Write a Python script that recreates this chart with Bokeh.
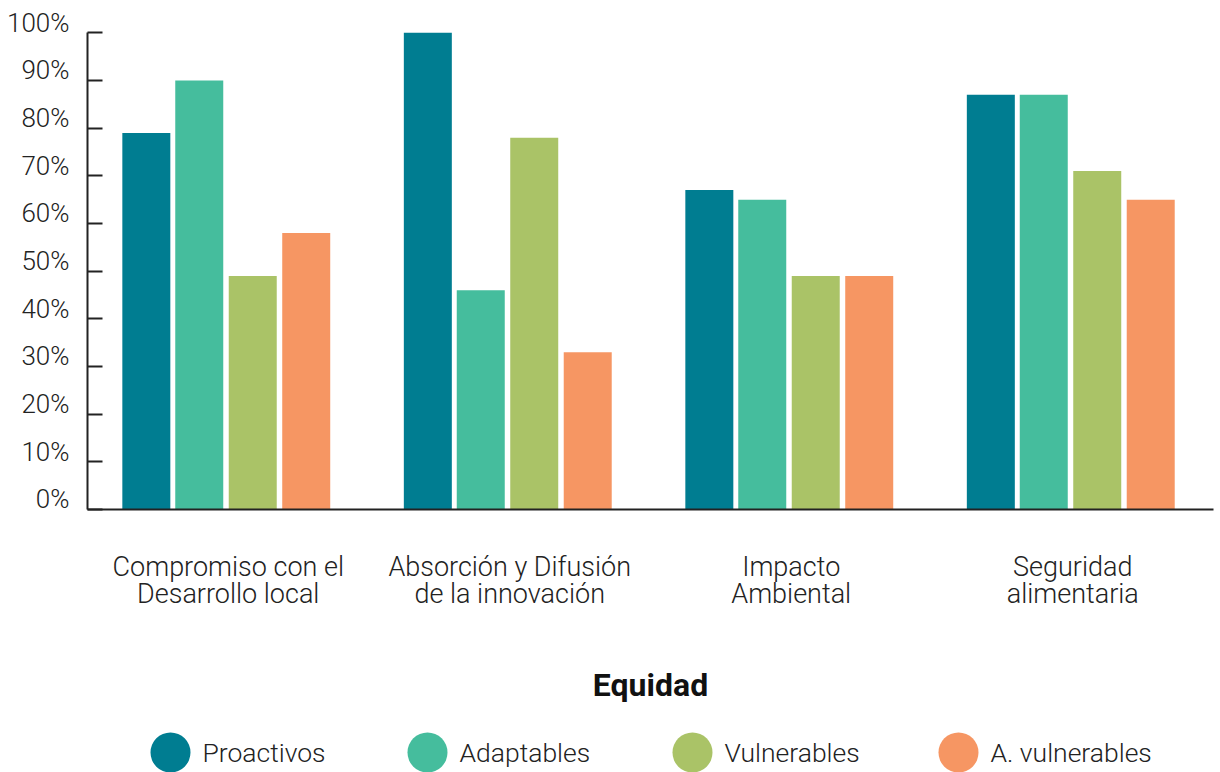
from bokeh.plotting import figure
from bokeh.layouts import column
from bokeh.models import (FactorRange, Range1d, LinearAxis, FixedTicker,
                          ColumnDataSource)
from bokeh.transform import dodge
from bokeh.core.properties import value
from bokeh.embed import file_html
from bokeh.resources import INLINE

# ---- data -------------------------------------------------------------
categories = [
    "Compromiso con el\nDesarrollo local",
    "Absorción y Difusión\nde la innovación",
    "Impacto\nAmbiental",
    "Seguridad\nalimentaria",
]
series_names = ["Proactivos", "Adaptables", "Vulnerables", "A. vulnerables"]
proactivos = [79, 100, 67, 87]
adaptables = [90, 46, 65, 87]
vulnerables = [49, 78, 49, 71]
a_vulnerables = [58, 33, 49, 65]
y_ticks = [0, 10, 20, 30, 40, 50, 60, 70, 80, 90, 100]
y_tick_labels = ["0%", "10%", "20%", "30%", "40%", "50%",
                 "60%", "70%", "80%", "90%", "100%"]
legend_title = "Equidad"

# ---- style ------------------------------------------------------------
colors = ["#007D91", "#45BD9D", "#AAC367", "#F69663"]
FONT = "Roboto Light"
INK = "#222222"
offsets = [-0.291, -0.103, 0.087, 0.277]
bar_width = 0.1705

source = ColumnDataSource(dict(
    cat=categories,
    proactivos=proactivos,
    adaptables=adaptables,
    vulnerables=vulnerables,
    a_vulnerables=a_vulnerables,
))
fields = ["proactivos", "adaptables", "vulnerables", "a_vulnerables"]

p = figure(
    width=1220, height=712,
    x_range=FactorRange(*categories, range_padding=0),
    y_range=Range1d(0, 103),
    y_axis_location=None,
    output_backend="svg", toolbar_location=None,
    min_border_left=87, min_border_right=7,
    min_border_top=18, min_border_bottom=203,
)
p.outline_line_color = None
p.grid.grid_line_color = None

for field, off, col in zip(fields, offsets, colors):
    p.vbar(x=dodge("cat", off, range=p.x_range), top=field, width=bar_width,
           source=source, fill_color=col, line_color=None)

# left axis: line and inward ticks only (labels come from the next axis)
tick_axis = LinearAxis(
    ticker=FixedTicker(ticks=y_ticks), bounds=(0, 100),
    major_tick_in=15, major_tick_out=0,
    major_tick_line_color=INK, major_tick_line_width=2,
    minor_tick_line_color=None,
    axis_line_color=INK, axis_line_width=2,
    major_label_overrides={t: "" for t in y_ticks},
    major_label_text_font_size="1px", major_label_standoff=0,
)
p.add_layout(tick_axis, "left")

# left axis: percentage labels, set slightly above their ticks
label_shift = 2.1
p.extra_y_ranges = {"labels": Range1d(-label_shift, 103 - label_shift)}
label_axis = LinearAxis(
    y_range_name="labels",
    ticker=FixedTicker(ticks=y_ticks),
    major_label_overrides={t: s for t, s in zip(y_ticks, y_tick_labels)},
    axis_line_color=None, major_tick_line_color=None,
    minor_tick_line_color=None,
    major_tick_in=0, major_tick_out=0,
    major_label_standoff=18,
    major_label_text_font=FONT, major_label_text_font_size="26px",
    major_label_text_color=INK,
)
p.add_layout(label_axis, "left")

xa = p.xaxis[0]
xa.axis_line_color = INK
xa.axis_line_width = 2
xa.major_tick_line_color = None
xa.minor_tick_line_color = None
xa.major_label_standoff = 35
xa.major_label_text_font = FONT
xa.major_label_text_font_size = "27px"
xa.major_label_text_color = INK
xa.major_label_text_line_height = 0.87
xa.axis_label = legend_title
xa.axis_label_text_font = "Roboto"
xa.axis_label_text_font_style = "bold"
xa.axis_label_text_font_size = "32px"
xa.axis_label_text_color = "#111111"
xa.axis_label_standoff = 53

# ---- legend strip -----------------------------------------------------
leg = figure(
    width=1220, height=60,
    x_range=Range1d(87, 1213), y_range=Range1d(0, 60),
    output_backend="svg", toolbar_location=None,
    x_axis_location=None, y_axis_location=None,
    min_border_left=87, min_border_right=7,
    min_border_top=0, min_border_bottom=0,
)
leg.outline_line_color = None
leg.grid.grid_line_color = None

legend_x = [170, 427, 692, 958]
leg_src = ColumnDataSource(dict(
    x=legend_x,
    tx=[x + 32 for x in legend_x],
    y=[20] * 4,
    name=series_names,
    color=colors,
))
leg.scatter(x="x", y="y", size=40, marker="circle", fill_color="color",
            line_color=None, source=leg_src)
leg.text(x="tx", y="y", text="name", source=leg_src,
         text_font=value(FONT), text_font_size="26.5px",
         text_baseline="middle", text_color=INK)

layout = column(p, leg, spacing=0)
open("out.html", "w").write(file_html(layout, INLINE))
